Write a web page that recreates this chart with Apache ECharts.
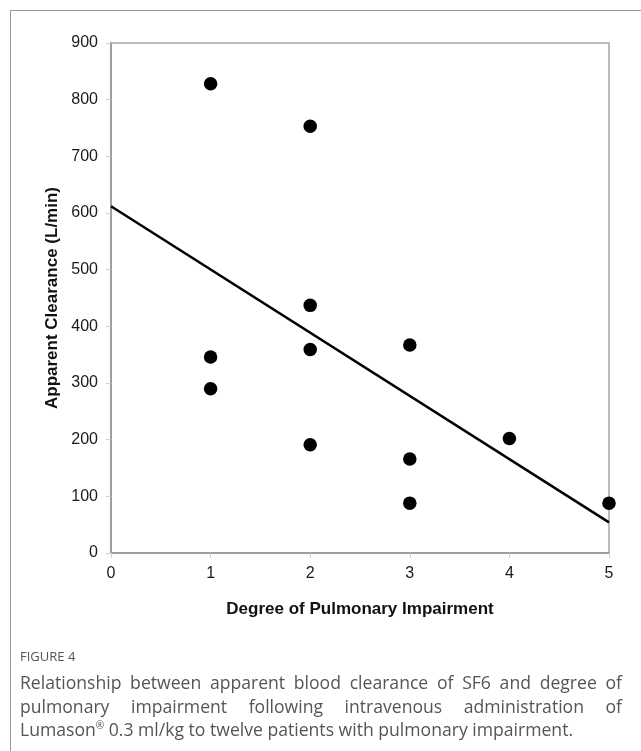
<!DOCTYPE html>
<html><head><meta charset="utf-8">
<script src="https://cdn.jsdelivr.net/npm/echarts@6/dist/echarts.min.js"></script>
<style>
html,body{margin:0;padding:0;background:#fff;}
#wrap{position:relative;width:641px;height:751px;overflow:hidden;}
#chart{position:absolute;left:0;top:0;width:641px;height:751px;}
#frame{position:absolute;left:10px;top:10px;width:700px;height:800px;border:1.5px solid #9a9a9a;box-sizing:border-box;}
#cap{position:absolute;left:20px;top:645px;width:602px;font-family:"Open Sans",sans-serif;color:#555;}
#cap .fig{font-size:13px;line-height:22px;margin-bottom:4px;color:#555;}
#cap .ln{font-size:17.6px;line-height:23.5px;display:block;white-space:nowrap;}
#cap .j{text-align:justify;text-align-last:justify;}
#cap sup{font-size:10px;line-height:0;}
</style></head>
<body><div id="wrap"><div id="frame"></div><div id="chart"></div>
<div id="cap"><div class="fig">FIGURE 4</div>
<div class="ln j" style="white-space:normal">Relationship between apparent blood clearance of SF6 and degree of</div>
<div class="ln j" style="white-space:normal">pulmonary impairment following intravenous administration of</div>
<div class="ln">Lumason<sup>®</sup> 0.3 ml/kg to twelve patients with pulmonary impairment.</div>
</div></div>
<script>
const impairment = [1, 1, 1, 2, 2, 2, 2, 3, 3, 3, 4, 5];
const clearance  = [828, 346, 290, 753, 437, 359, 191, 367, 166, 88, 202, 88];
const trendX = [0, 5];
const trendY = [612, 54];
const xTicks = [0, 1, 2, 3, 4, 5];
const yTicks = [0, 100, 200, 300, 400, 500, 600, 700, 800, 900];

const chart = echarts.init(document.getElementById('chart'), null, {renderer:'canvas'});
const font = '"Liberation Sans", Arial, sans-serif';
chart.setOption({
  animation:false,
  grid:{left:111, top:43, right:32, bottom:198, show:true, borderColor:'#a6a6a6', borderWidth:1.5},
  xAxis:{type:'value', min:xTicks[0], max:xTicks[xTicks.length-1], interval:1,
    name:'Degree of Pulmonary Impairment', nameLocation:'middle', nameGap:48,
    nameTextStyle:{fontFamily:font, fontSize:17, fontWeight:'bold', color:'#111'},
    axisLine:{show:true, lineStyle:{color:'#9e9e9e', width:2}},
    axisTick:{show:true, length:5, lineStyle:{color:'#d0d0d0', width:1}},
    axisLabel:{fontFamily:font, fontSize:16, color:'#1a1a1a', margin:13},
    splitLine:{show:false}},
  yAxis:{type:'value', min:yTicks[0], max:yTicks[yTicks.length-1], interval:100,
    name:'Apparent Clearance (L/min)', nameLocation:'middle', nameGap:41,
    nameTextStyle:{fontFamily:font, fontSize:17, fontWeight:'bold', color:'#111'},
    axisLine:{show:true, lineStyle:{color:'#9e9e9e', width:2}},
    axisTick:{show:true, length:5, lineStyle:{color:'#d0d0d0', width:1}},
    axisLabel:{fontFamily:font, fontSize:16, color:'#1a1a1a', margin:13},
    splitLine:{show:false}},
  series:[
    {type:'line', data:trendX.map((x,i)=>[x,trendY[i]]), symbol:'none',
     lineStyle:{color:'#000', width:2.5}, z:2},
    {type:'scatter', data:impairment.map((x,i)=>[x,clearance[i]]), symbolSize:13.5,
     itemStyle:{color:'#000', opacity:1}, z:3}
  ]
});
</script></body></html>
